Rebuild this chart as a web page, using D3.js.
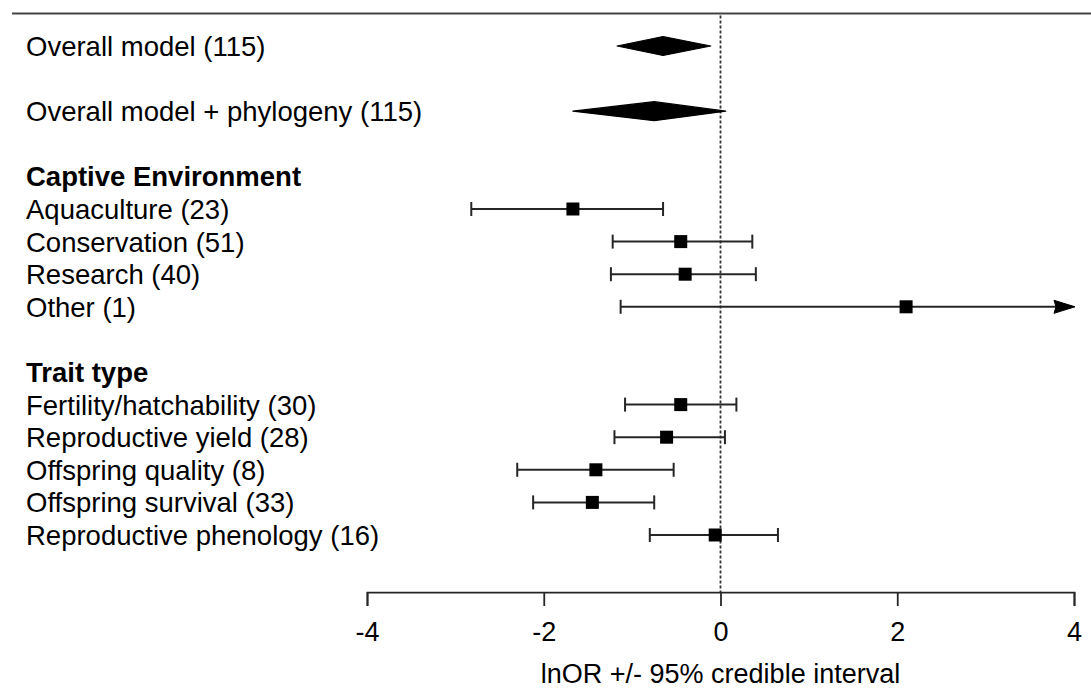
<!DOCTYPE html>
<html>
<head>
<meta charset="utf-8">
<script src="https://cdn.jsdelivr.net/npm/d3@7"></script>
<style>
  body { margin: 0; background: #fff; }
  text { font-family: "Liberation Sans", Arial, sans-serif; fill: #000; }
</style>
</head>
<body>
<svg id="forest" width="1091" height="688"></svg>
<script>
// Overall models (drawn as diamonds)
const overallLabels = ["Overall model (115)", "Overall model + phylogeny (115)"];
const overallRows = [1, 3];
const overallEst = [-0.65, -0.75];
const overallLo = [-1.17, -1.67];
const overallHi = [-0.11, 0.06];

// Group headers
const headerLabels = ["Captive Environment", "Trait type"];
const headerRows = [5, 11];

// Moderator levels (points + intervals)
const levelLabels = [
  "Aquaculture (23)",
  "Conservation (51)",
  "Research (40)",
  "Other (1)",
  "Fertility/hatchability (30)",
  "Reproductive yield (28)",
  "Offspring quality (8)",
  "Offspring survival (33)",
  "Reproductive phenology (16)",
];
const levelRows = [6, 7, 8, 9, 12, 13, 14, 15, 16];
const levelEst = [-1.67, -0.45, -0.40, 2.10, -0.45, -0.61, -1.41, -1.45, -0.06];
const levelLo = [-2.82, -1.22, -1.24, -1.13, -1.08, -1.20, -2.30, -2.12, -0.80];
const levelHi = [-0.65, 0.36, 0.40, 5.30, 0.18, 0.05, -0.53, -0.75, 0.65];

const xTicks = [-4, -2, 0, 2, 4];
const xTitle = "lnOR +/- 95% credible interval";

const width = 1091;
const labelSize = 27.5;
const axisSize = 27;
const lineCol = "#262626";

const svg = d3.select("#forest");

const x = d3.scaleLinear().domain([-4, 4]).range([367, 1074]);
const y = d3.scaleLinear().domain([0, 18]).range([13.4, 13.4 + 18 * 32.6]);
const axisY = y(17.75);

// top rule
svg.append("line")
  .attr("x1", 12).attr("x2", width)
  .attr("y1", y(0)).attr("y2", y(0))
  .attr("stroke", "#444").attr("stroke-width", 2);

// zero reference line
svg.append("line")
  .attr("x1", x(0)).attr("x2", x(0))
  .attr("y1", y(0) + 2).attr("y2", axisY)
  .attr("stroke", "#333").attr("stroke-width", 1.8)
  .attr("stroke-dasharray", "3,2");

// labels
const labelData = overallLabels.map((t, i) => ({ t, r: overallRows[i], bold: false }))
  .concat(headerLabels.map((t, i) => ({ t, r: headerRows[i], bold: true })))
  .concat(levelLabels.map((t, i) => ({ t, r: levelRows[i], bold: false })));

svg.append("g")
  .selectAll("text")
  .data(labelData)
  .enter()
  .append("text")
  .attr("x", 26)
  .attr("y", (d) => y(d.r))
  .attr("dy", "0.36em")
  .style("font-size", labelSize + "px")
  .style("font-weight", (d) => (d.bold ? "bold" : "normal"))
  .text((d) => d.t);

// diamonds
const diamonds = overallRows.map((r, i) => ({ r, est: overallEst[i], lo: overallLo[i], hi: overallHi[i] }));
svg.append("g")
  .selectAll("polygon")
  .data(diamonds)
  .enter()
  .append("polygon")
  .attr("points", (d) => {
    const cy = y(d.r);
    return [
      [x(d.lo), cy],
      [x(d.est), cy - 9.5],
      [x(d.hi), cy],
      [x(d.est), cy + 9.5],
    ].join(" ");
  })
  .attr("fill", "#000")
  .attr("stroke", "#000")
  .attr("stroke-width", 1.2)
  .attr("stroke-linejoin", "round");

// intervals
const [xMin, xMax] = x.domain();
const levels = levelRows.map((r, i) => ({ r, est: levelEst[i], lo: levelLo[i], hi: levelHi[i] }));
const bars = svg.append("g");

bars.selectAll(".ci")
  .data(levels)
  .enter()
  .append("line")
  .attr("class", "ci")
  .attr("x1", (d) => x(Math.max(d.lo, xMin)))
  .attr("x2", (d) => (d.hi > xMax ? x(xMax) - 18 : x(d.hi)))
  .attr("y1", (d) => y(d.r))
  .attr("y2", (d) => y(d.r))
  .attr("stroke", lineCol)
  .attr("stroke-width", 2);

// caps (left always, right only when inside range)
const caps = [];
levels.forEach((d) => {
  if (d.lo >= xMin) caps.push({ r: d.r, v: d.lo });
  if (d.hi <= xMax) caps.push({ r: d.r, v: d.hi });
});
bars.selectAll(".cap")
  .data(caps)
  .enter()
  .append("line")
  .attr("class", "cap")
  .attr("x1", (d) => x(d.v))
  .attr("x2", (d) => x(d.v))
  .attr("y1", (d) => y(d.r) - 7)
  .attr("y2", (d) => y(d.r) + 7)
  .attr("stroke", lineCol)
  .attr("stroke-width", 2);

// arrows for truncated intervals
bars.selectAll(".arrow")
  .data(levels.filter((d) => d.hi > xMax))
  .enter()
  .append("polygon")
  .attr("class", "arrow")
  .attr("points", (d) => {
    const cy = y(d.r);
    const tip = x(xMax) + 1;
    return [[tip, cy], [tip - 21, cy - 6.5], [tip - 19, cy], [tip - 21, cy + 6.5]].join(" ");
  })
  .attr("fill", "#000")
  .attr("stroke", "#000")
  .attr("stroke-width", 1);

// point estimates
bars.selectAll(".pt")
  .data(levels)
  .enter()
  .append("rect")
  .attr("class", "pt")
  .attr("x", (d) => x(d.est) - 6.5)
  .attr("y", (d) => y(d.r) - 6.5)
  .attr("width", 13)
  .attr("height", 13)
  .attr("fill", "#000");

// x axis
const axis = svg.append("g")
  .attr("transform", `translate(0,${axisY})`)
  .call(d3.axisBottom(x).tickValues(xTicks).tickSize(14).tickPadding(16).tickFormat(d3.format("d")));
axis.select(".domain").attr("stroke", lineCol).attr("stroke-width", 1.8);
axis.selectAll(".tick line").attr("stroke", lineCol).attr("stroke-width", 1.8);
axis.selectAll(".tick text")
  .style("font-size", axisSize + "px")
  .style("font-family", '"Liberation Sans", Arial, sans-serif')
  .text((d) => (d < 0 ? "-" + Math.abs(d) : d));

svg.append("text")
  .attr("x", x(0))
  .attr("y", 683)
  .attr("text-anchor", "middle")
  .style("font-size", axisSize + "px")
  .text(xTitle);
</script>
</body>
</html>
